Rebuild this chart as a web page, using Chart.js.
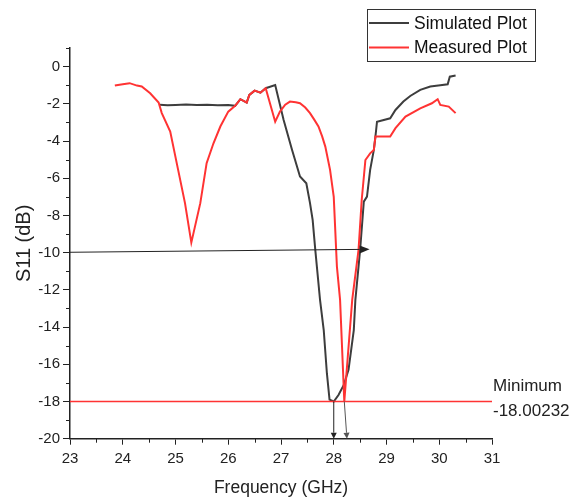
<!DOCTYPE html>
<html>
<head>
<meta charset="utf-8">
<script src="https://cdn.jsdelivr.net/npm/chart.js@4/dist/chart.umd.min.js"></script>
<style>
    body { margin: 0; background: #fff; }
    #wrap { width: 579px; height: 499px; }
</style>
</head>
<body>
<div id="wrap"><canvas id="s11Chart" width="579" height="499"></canvas></div>
<script>
// Simulated plot (GHz, dB)
const simFreq = [24.70, 24.85, 25.0, 25.2, 25.4, 25.6, 25.8, 26.0, 26.13, 26.23, 26.35, 26.40, 26.50, 26.61, 26.71,
    26.89, 27.05, 27.21, 27.36, 27.48, 27.55, 27.60, 27.65, 27.74, 27.81, 27.87, 27.92, 28.0, 28.09, 28.19,
    28.28, 28.38, 28.41, 28.5, 28.57, 28.63, 28.69, 28.76, 28.79, 28.82, 29.07, 29.17, 29.32, 29.45, 29.64,
    29.83, 30.02, 30.16, 30.20, 30.31];
const simS11 = [-2.05, -2.08, -2.06, -2.04, -2.07, -2.05, -2.08, -2.07, -2.11, -1.75, -1.93, -1.52, -1.29, -1.40, -1.16,
    -0.99, -2.87, -4.48, -5.91, -6.27, -7.34, -8.24, -9.85, -12.54, -14.16, -16.48, -17.90, -18.00, -17.65, -17.11,
    -16.3, -14.16, -12.54, -9.85, -7.26, -6.99, -5.55, -4.48, -3.76, -2.96, -2.78, -2.33, -1.88, -1.58, -1.25,
    -1.07, -1.0, -0.95, -0.54, -0.48];

// Measured plot (GHz, dB)
const measFreq = [23.85, 24.0, 24.13, 24.27, 24.36, 24.52, 24.68, 24.74, 24.90, 25.05, 25.18, 25.30, 25.47, 25.59,
    25.72, 25.85, 26.0, 26.13, 26.23, 26.35, 26.40, 26.50, 26.61, 26.71, 26.89, 26.98, 27.08, 27.17, 27.28,
    27.36, 27.46, 27.55, 27.63, 27.71, 27.78, 27.84, 27.93, 28.0, 28.06, 28.12, 28.20, 28.35, 28.47, 28.53,
    28.60, 28.69, 28.76, 28.79, 29.07, 29.17, 29.36, 29.64, 29.86, 29.97, 30.02, 30.18, 30.31];
const measS11 = [-1.02, -0.95, -0.89, -1.02, -1.07, -1.43, -1.93, -2.5, -3.49, -5.55, -7.34, -9.46, -7.34, -5.19,
    -4.12, -3.22, -2.42, -2.11, -1.75, -1.93, -1.52, -1.29, -1.40, -1.16, -2.96, -2.42, -2.05, -1.88, -1.92,
    -1.97, -2.2, -2.5, -2.85, -3.22, -3.75, -4.3, -5.55, -7.0, -10.75, -12.54, -18.0, -12.54, -9.85, -7.17,
    -5.02, -4.66, -4.48, -3.76, -3.76, -3.31, -2.69, -2.24, -1.97, -1.75, -2.06, -2.15, -2.5];

// Axis ticks
const xTicks = [23, 24, 25, 26, 27, 28, 29, 30, 31];
const xMinor = [23.5, 24.5, 25.5, 26.5, 27.5, 28.5, 29.5, 30.5];
const yTicks = [-20, -18, -16, -14, -12, -10, -8, -6, -4, -2, 0];
const yMinor = [-19, -17, -15, -13, -11, -9, -7, -5, -3, -1, 1];

// Annotations
const minLevel = -18;
const minLabel = ['Minimum', '-18.00232'];
const arrowTenFrom = [23, -9.98];
const arrowTenTo = [28.68, -9.82];
const dropFrom = [[28.0, -18], [28.2, -18]];
const dropTo = [[28.0, -20], [28.25, -20]];

const FONT = "'Liberation Sans', Arial, sans-serif";
const simColor = '#3d3d3d';
const measColor = '#ff3333';

function toPoints(xs, ys) {
    return xs.map((x, i) => ({ x: x, y: ys[i] }));
}

// Arrow with filled head, in pixel coords
function drawArrow(ctx, x1, y1, x2, y2, color, headLen, headHalf) {
    const ang = Math.atan2(y2 - y1, x2 - x1);
    ctx.strokeStyle = color;
    ctx.fillStyle = color;
    ctx.lineWidth = 1;
    ctx.beginPath();
    ctx.moveTo(x1, y1);
    ctx.lineTo(x2 - headLen * Math.cos(ang), y2 - headLen * Math.sin(ang));
    ctx.stroke();
    ctx.beginPath();
    ctx.moveTo(x2, y2);
    ctx.lineTo(x2 - headLen * Math.cos(ang) + headHalf * Math.sin(ang), y2 - headLen * Math.sin(ang) - headHalf * Math.cos(ang));
    ctx.lineTo(x2 - headLen * Math.cos(ang) - headHalf * Math.sin(ang), y2 - headLen * Math.sin(ang) + headHalf * Math.cos(ang));
    ctx.closePath();
    ctx.fill();
}

// Minor ticks, reference lines, arrows, legend box
const extrasPlugin = {
    id: 'extras',
    afterDatasetsDraw(chart) {
        const ctx = chart.ctx;
        const xs = chart.scales.x;
        const ys = chart.scales.y;
        const area = chart.chartArea;
        ctx.save();

        // minor ticks
        ctx.strokeStyle = '#222';
        ctx.lineWidth = 1;
        ctx.beginPath();
        yMinor.forEach(v => {
            const py = Math.round(ys.getPixelForValue(v)) + 0.5;
            ctx.moveTo(area.left - 4, py);
            ctx.lineTo(area.left, py);
        });
        xMinor.forEach(v => {
            const px = Math.round(xs.getPixelForValue(v)) + 0.5;
            ctx.moveTo(px, area.bottom);
            ctx.lineTo(px, area.bottom + 4);
        });
        ctx.stroke();

        // -18 dB line
        const y18 = ys.getPixelForValue(minLevel);
        ctx.strokeStyle = measColor;
        ctx.lineWidth = 1.5;
        ctx.beginPath();
        ctx.moveTo(area.left, y18);
        ctx.lineTo(area.right, y18);
        ctx.stroke();

        // -10 dB arrow
        drawArrow(ctx, xs.getPixelForValue(arrowTenFrom[0]), ys.getPixelForValue(arrowTenFrom[1]),
            xs.getPixelForValue(arrowTenTo[0]), ys.getPixelForValue(arrowTenTo[1]), '#222', 10, 4);

        // arrows from minima down to the axis
        dropFrom.forEach((p, i) => {
            drawArrow(ctx, xs.getPixelForValue(p[0]), ys.getPixelForValue(p[1]),
                xs.getPixelForValue(dropTo[i][0]), ys.getPixelForValue(dropTo[i][1]),
                i === 0 ? '#222' : '#555', 6, 3);
        });

        // minimum label
        ctx.fillStyle = '#222';
        ctx.font = '17px ' + FONT;
        ctx.textAlign = 'left';
        ctx.textBaseline = 'middle';
        ctx.fillText(minLabel[0], area.right + 1, y18 - 15);
        ctx.fillText(minLabel[1], area.right + 1, y18 + 10);

        // legend box
        ctx.strokeStyle = '#333';
        ctx.lineWidth = 1;
        ctx.strokeRect(367.5, 9.5, 168, 52);
        const rows = [['Simulated Plot', simColor, 23], ['Measured Plot', measColor, 47.5]];
        ctx.font = '17.5px ' + FONT;
        rows.forEach(r => {
            ctx.strokeStyle = r[1];
            ctx.lineWidth = 2;
            ctx.beginPath();
            ctx.moveTo(369, r[2]);
            ctx.lineTo(409, r[2]);
            ctx.stroke();
            ctx.fillStyle = '#111';
            ctx.fillText(r[0], 414, r[2] + 1);
        });

        ctx.restore();
    }
};

const chart = new Chart(document.getElementById('s11Chart'), {
    type: 'scatter',
    data: {
        datasets: [
            {
                label: 'Simulated Plot',
                data: toPoints(simFreq, simS11),
                showLine: true,
                borderColor: simColor,
                borderWidth: 2,
                pointRadius: 0,
                tension: 0,
                order: 1
            },
            {
                label: 'Measured Plot',
                data: toPoints(measFreq, measS11),
                showLine: true,
                borderColor: measColor,
                borderWidth: 2,
                pointRadius: 0,
                tension: 0,
                order: 0
            }
        ]
    },
    options: {
        responsive: false,
        animation: false,
        layout: { padding: { top: 48, right: 87, left: 0, bottom: 0 } },
        plugins: {
            legend: { display: false },
            tooltip: { enabled: false }
        },
        scales: {
            x: {
                type: 'linear',
                min: 23,
                max: 31,
                afterBuildTicks: scale => { scale.ticks = xTicks.map(v => ({ value: v })); },
                afterFit: scale => { scale.height = 60.3; },
                grid: { drawOnChartArea: false, tickLength: 6, tickColor: '#222', tickWidth: 1 },
                border: { color: '#222', width: 1.5 },
                ticks: { color: '#222', font: { family: FONT, size: 15 }, padding: 5, maxRotation: 0 },
                title: {
                    display: true,
                    text: 'Frequency (GHz)',
                    color: '#222',
                    font: { family: FONT, size: 17.5 },
                    padding: { top: 1, bottom: 0 }
                }
            },
            y: {
                min: -20,
                max: 1,
                afterBuildTicks: scale => { scale.ticks = yTicks.map(v => ({ value: v })); },
                afterFit: scale => { scale.width = 70; },
                grid: { drawOnChartArea: false, tickLength: 7, tickColor: '#222', tickWidth: 1 },
                border: { color: '#222', width: 1.5 },
                ticks: { color: '#222', font: { family: FONT, size: 15 }, padding: 3 },
                title: {
                    display: true,
                    text: 'S11 (dB)',
                    color: '#222',
                    font: { family: FONT, size: 20 },
                    padding: { top: 12.5, bottom: 0 }
                }
            }
        }
    },
    plugins: [extrasPlugin]
});
</script>
</body>
</html>
